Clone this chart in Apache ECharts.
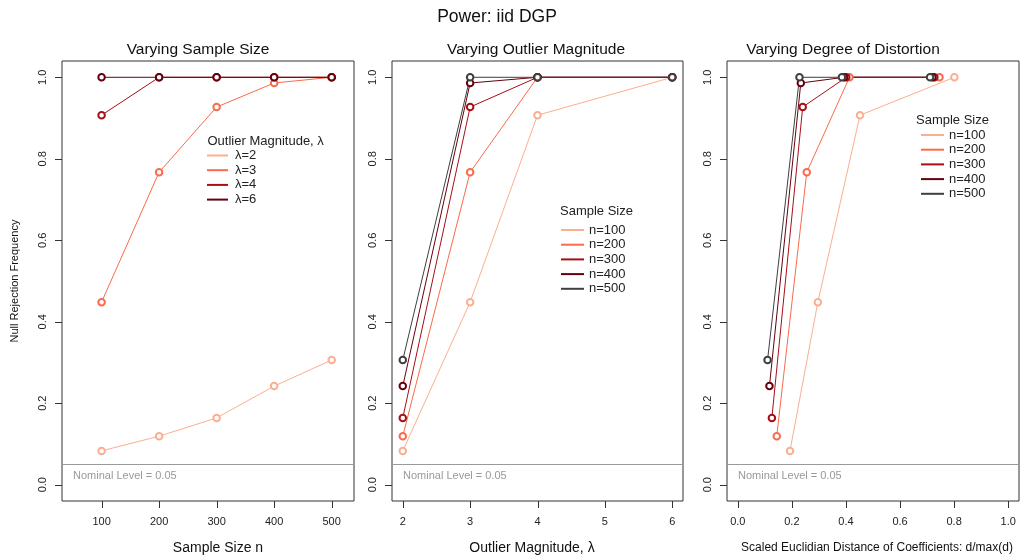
<!DOCTYPE html>
<html>
<head>
<meta charset="utf-8">
<script src="https://cdn.jsdelivr.net/npm/echarts@6/dist/echarts.min.js"></script>
<style>
html,body{margin:0;padding:0;background:#fff;}
#chart{width:1027px;height:560px;}
</style>
</head>
<body>
<div id="chart"></div>
<script>
// ---------------- data ----------------
const sampleSizes = [100, 200, 300, 400, 500];
const lambdas = [2, 3, 4, 6];
const lambdaNames = ['λ=2', 'λ=3', 'λ=4', 'λ=6'];
const sizeNames = ['n=100', 'n=200', 'n=300', 'n=400', 'n=500'];

// power by outlier magnitude, across sample sizes 100..500
const powerLam2 = [0.083, 0.119, 0.164, 0.242, 0.306];
const powerLam3 = [0.448, 0.767, 0.927, 0.986, 1.0];
const powerLam4 = [0.907, 1.0, 1.0, 1.0, 1.0];
const powerLam6 = [1.0, 1.0, 1.0, 1.0, 1.0];

// scaled distance d/max(d) for lambda 2,3,4,6 at each sample size
const distN100 = [0.193, 0.296, 0.452, 0.801];
const distN200 = [0.144, 0.255, 0.413, 0.746];
const distN300 = [0.126, 0.240, 0.401, 0.727];
const distN400 = [0.117, 0.233, 0.393, 0.720];
const distN500 = [0.110, 0.228, 0.385, 0.711];

const yTicks = [0, 0.2, 0.4, 0.6, 0.8, 1.0];
const xTicks1 = [100, 200, 300, 400, 500];
const xTicks2 = [2, 3, 4, 5, 6];
const xTicks3 = [0, 0.2, 0.4, 0.6, 0.8, 1.0];
const nominalLevel = 0.05;

// ---------------- styling ----------------
const colors = ['#FCAE91', '#FB6A4A', '#A50F15', '#67000D', '#3F3F3F'];
const FONT = 'Liberation Sans, Arial, Helvetica, sans-serif';

const powerByLambda = [powerLam2, powerLam3, powerLam4, powerLam6];
const distBySize = [distN100, distN200, distN300, distN400, distN500];

const grids = [
  {left: 62, top: 61, width: 292, height: 440},
  {left: 392, top: 61, width: 291, height: 440},
  {left: 727, top: 61, width: 292, height: 440}
];
const Y_MIN = -0.04, Y_MAX = 1.04;
const xRanges = [[31.2, 538.8], [1.84, 6.16], [-0.04, 1.04]];
const xTickSets = [xTicks1, xTicks2, xTicks3];

function yAxis(i) {
  const ax = {
    type: 'value', gridIndex: i, min: Y_MIN, max: Y_MAX,
    axisLine: {show: false, onZero: false},
    splitLine: {show: false},
    axisTick: {show: false},
    axisLabel: {customValues: yTicks, rotate: 90, margin: 14, fontSize: 11, fontFamily: FONT, color: '#222',
      formatter: v => v.toFixed(1)}
  };
  if (i === 0) {
    ax.name = 'Null Rejection Frequency';
    ax.nameLocation = 'middle';
    ax.nameGap = 42;
    ax.nameRotate = 90;
    ax.nameTextStyle = {fontSize: 11, fontFamily: FONT, color: '#111'};
  }
  return ax;
}
function xAxis(i, fmt) {
  return {
    type: 'value', gridIndex: i, min: xRanges[i][0], max: xRanges[i][1],
    axisLine: {show: false, onZero: false},
    splitLine: {show: false},
    axisTick: {show: false},
    axisLabel: {customValues: xTickSets[i], margin: 15, fontSize: 11, fontFamily: FONT, color: '#222', formatter: fmt}
  };
}

const series = [];
function addLine(name, gi, pts, color) {
  series.push({
    type: 'line', name: name, xAxisIndex: gi, yAxisIndex: gi,
    data: pts, symbol: 'emptyCircle', symbolSize: 6.5,
    lineStyle: {color: color, width: 1},
    itemStyle: {color: color, borderColor: color, borderWidth: 1},
    emphasis: {disabled: true},
    z: 3
  });
}
// panel 1: x = sample size, one line per lambda
powerByLambda.forEach((arr, k) => {
  addLine(lambdaNames[k], 0, sampleSizes.map((n, j) => [n, arr[j]]), colors[k]);
});
// panel 2: x = lambda, one line per sample size
sampleSizes.forEach((n, j) => {
  addLine(sizeNames[j], 1, lambdas.map((l, k) => [l, powerByLambda[k][j]]), colors[j]);
});
// panel 3: x = scaled distance, one line per sample size
sampleSizes.forEach((n, j) => {
  addLine(sizeNames[j], 2, lambdas.map((l, k) => [distBySize[j][k], powerByLambda[k][j]]), colors[j]);
});
// nominal level lines
[0, 1, 2].forEach(gi => {
  series.push({
    type: 'line', xAxisIndex: gi, yAxisIndex: gi, data: [], silent: true,
    markLine: {
      silent: true, symbol: 'none', animation: false,
      lineStyle: {color: '#9a9a9a', width: 1, type: 'solid'},
      label: {show: false},
      data: [{yAxis: nominalLevel}]
    }
  });
});

// ---------------- text / legends ----------------
const graphic = [];
function txt(text, x, y, size, opts) {
  graphic.push(Object.assign({
    type: 'text', x: x, y: y, silent: true,
    style: Object.assign({text: text, fontSize: size, fontFamily: FONT, fill: '#111',
      textAlign: 'center', textVerticalAlign: 'middle'}, opts || {})
  }));
}
txt('Power: iid DGP', 497, 17, 17.5);
txt('Varying Sample Size', 198, 50, 15.5);
txt('Varying Outlier Magnitude', 536, 50, 15.5);
txt('Varying Degree of Distortion', 843, 50, 15.5);
txt('Sample Size n', 218, 548, 14);
txt('Outlier Magnitude, λ', 532, 548, 14);
txt('Scaled Euclidian Distance of Coefficients: d/max(d)', 877, 548, 12);
grids.forEach(g => {
  txt('Nominal Level = ' + nominalLevel, g.left + 11, 476, 11, {textAlign: 'left', fill: '#999'});
});

function legendBlock(title, tx, ty, lx1, lx2, textX, y0, names, cols) {
  txt(title, tx, ty, 13, {textAlign: 'left', fill: '#222'});
  names.forEach((nm, i) => {
    const y = y0 + 14.7 * i;
    graphic.push({type: 'line', silent: true, shape: {x1: lx1, y1: y, x2: lx2, y2: y},
      style: {stroke: cols[i], lineWidth: 2}});
    txt(nm, textX, y, 13, {textAlign: 'left', fill: '#222'});
  });
}
legendBlock('Outlier Magnitude, λ', 207.5, 141, 207, 228, 235, 155.5, lambdaNames, colors.slice(0, 4));
legendBlock('Sample Size', 560, 211, 561, 584, 589, 230, sizeNames, colors);
legendBlock('Sample Size', 916, 120, 921, 944, 949, 135, sizeNames, colors);

// outward tick marks (axis decoration) at the tick values of each panel's linear scale
grids.forEach((g, gi) => {
  const xr = xRanges[gi];
  const bottom = g.top + g.height;
  xTickSets[gi].forEach(v => {
    const x = Math.round(g.left + (v - xr[0]) / (xr[1] - xr[0]) * g.width) + 0.5;
    graphic.push({type: 'rect', silent: true, z: 100,
      shape: {x: x - 0.5, y: bottom, width: 1, height: 7}, style: {fill: '#333'}});
  });
  yTicks.forEach(v => {
    const y = Math.round(bottom - (v - Y_MIN) / (Y_MAX - Y_MIN) * g.height);
    graphic.push({type: 'rect', silent: true, z: 100,
      shape: {x: g.left - 7, y: y, width: 7, height: 1}, style: {fill: '#333'}});
  });
});

const option = {
  animation: false,
  backgroundColor: '#fff',
  grid: grids.map(g => Object.assign({show: true, borderColor: '#333', borderWidth: 1,
    backgroundColor: 'transparent', containLabel: false}, g)),
  xAxis: [
    xAxis(0, v => String(v)),
    xAxis(1, v => String(v)),
    xAxis(2, v => v.toFixed(1))
  ],
  yAxis: [yAxis(0), yAxis(1), yAxis(2)],
  series: series,
  graphic: graphic
};
const chart = echarts.init(document.getElementById('chart'), null, {renderer: 'canvas'});
chart.setOption(option);
</script>
</body>
</html>
